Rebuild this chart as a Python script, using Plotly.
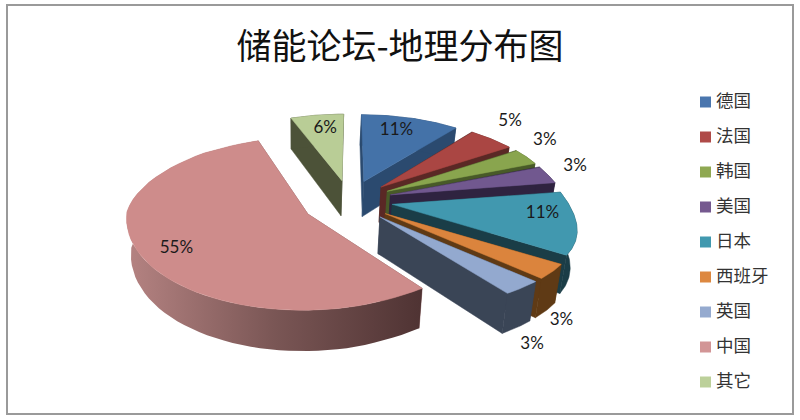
import numpy as np
import plotly.graph_objects as go

categories = ["德国", "法国", "韩国", "美国", "日本", "西班牙", "英国", "中国", "其它"]
shares = [11, 5, 3, 3, 11, 3, 3, 55, 6]
label_text = ["11%", "5%", "3%", "3%", "11%", "3%", "3%", "55%", "6%"]
title_text = "储能论坛-地理分布图"

top_colors = ["#4472A8", "#AA4643", "#89A54E", "#71588F", "#4198AF", "#DB843D", "#93A9CF", "#CE8C8B", "#B9CD96"]
wall_colors = ["#2B4A6F", "#5A2825", "#485A28", "#2F2340", "#1A3D47", "#5F3A15", "#3A4556", "#7A5050", "#4C5238"]
legend_colors = ["#4A76AE", "#AF4A48", "#8FA852", "#75598F", "#4199AF", "#DD8840", "#95AACF", "#D29596", "#BCD09A"]
explode = [0.24, 0.24, 0.24, 0.24, 0.24, 0.24, 0.24, 0.27, 0.24]
label_radius = [0.76, 1.32, 1.26, 1.21, 0.83, 1.345, 1.48, 0.80, 0.755]
label_turn = [-2, -4, -5.6, -1.8, -5.3, 19, 16.7, 9, 1.4]

# projection of the tilted pie onto pixel axes
CX, CY, SX, SY_NEAR, SY_FAR, P, DEPTH = 350, 200.5, 178, 96, 88, 0.21, 36


def project(X, Y):
    X, Y = np.asarray(X, float), np.asarray(Y, float)
    far = Y >= 0
    gain_far = np.where(X < 0,
                        (1 + 0.025 * np.maximum(0, 1 - Y / 0.5)) / (1 + P * Y * np.minimum(1, Y / 0.8)),
                        1 / (1 + P * Y))
    gain_near = np.where(X > 0, 1 - Y * (0.25 * X - 0.1), 1.025 + 0.06 * Y)
    gain = np.where(far, gain_far, gain_near)
    depth = np.where(far, SY_FAR * Y / (1 + P * Y), SY_NEAR * Y)
    sag = np.where(X > 0, 4.0, 7.6) * np.where(far, np.maximum(0, 1 - Y / 0.6), 1.0)
    return CX + SX * X * gain, CY - depth + sag * X * X


def drop(px, py, Y):
    return px + (300 - px) * 0.025, py + DEPTH * (1 - 0.12 * np.asarray(Y, float))


def wedge(tip, a0, a1):
    t = np.radians(np.linspace(a0, a1, 60))
    return tip[0] + np.sin(t), tip[1] + np.cos(t)


def band(X, Y):
    px, py = project(X, Y)
    bx, by = drop(px, py, Y)
    return np.r_[px, bx[::-1], px[0]], np.r_[py, by[::-1], py[0]]


fig = go.Figure()
edges = np.cumsum([0] + shares) * 3.6
mids = (edges[:-1] + edges[1:]) / 2
tips = [(e * np.sin(np.radians(m)), e * np.cos(np.radians(m))) for e, m in zip(explode, mids)]
order = [8, 0, 1, 2, 3, 4, 5, 6, 7]


def poly(x, y, color):
    fig.add_trace(go.Scatter(x=x, y=y, mode="lines", fill="toself", fillcolor=color,
                             line=dict(width=0.5, color=color), hoverinfo="skip", showlegend=False))


for i in order:
    tip = tips[i]
    for a in (edges[i], edges[i + 1]):
        r = np.radians(a)
        poly(*band(np.array([tip[0], tip[0] + np.sin(r)]), np.array([tip[1], tip[1] + np.cos(r)])), wall_colors[i])
    X, Y = wedge(tip, edges[i], edges[i + 1])
    bx, by = band(X, Y)
    if categories[i] == "中国":
        fig.add_trace(go.Scatter(
            x=bx, y=by, mode="lines", fill="toself", line=dict(width=0), hoverinfo="skip", showlegend=False,
            fillgradient=dict(type="horizontal", colorscale=[[0, "#B58382"], [0.5, "#7A5655"], [1, "#4F3333"]]),
        ))
    else:
        poly(bx, by, wall_colors[i])
    tx, ty = project(np.r_[tip[0], X, tip[0]], np.r_[tip[1], Y, tip[1]])
    poly(tx, ty, top_colors[i])

lab_x, lab_y = [], []
for i in range(len(shares)):
    t = np.radians(mids[i] + label_turn[i])
    px, py = project(tips[i][0] + label_radius[i] * np.sin(t), tips[i][1] + label_radius[i] * np.cos(t))
    lab_x.append(float(px))
    lab_y.append(float(py))
fig.add_trace(go.Scatter(x=lab_x, y=lab_y, mode="text", text=label_text, hoverinfo="skip", showlegend=False,
                         textfont=dict(family="Lato, Liberation Sans", size=17, color="#1a1a1a")))

# key at the right of the pie
key_y = [102 + 35 * k for k in range(len(categories))]
fig.add_trace(go.Scatter(x=[705.5] * len(categories), y=key_y, mode="markers", hoverinfo="skip", showlegend=False,
                         marker=dict(symbol="square", size=11, color=legend_colors, line=dict(width=0))))
fig.add_trace(go.Scatter(x=[716] * len(categories), y=[k + 1 for k in key_y], mode="text", text=categories,
                         textposition="middle right", hoverinfo="skip", showlegend=False,
                         textfont=dict(family="Noto Sans CJK SC", size=17.5, color="#333333")))

fig.update_layout(
    width=800, height=420, margin=dict(l=0, r=0, t=0, b=0),
    paper_bgcolor="white", plot_bgcolor="white", autosize=False, showlegend=False,
    xaxis=dict(range=[0, 800], visible=False, fixedrange=True),
    yaxis=dict(range=[420, 0], visible=False, fixedrange=True),
    title=dict(text=title_text, x=0.5, xanchor="center", xref="paper", y=0.888, yanchor="middle",
               font=dict(family="Noto Sans CJK SC", size=35, color="#111111")),
    shapes=[dict(type="rect", xref="x", yref="y", x0=7, y0=5, x1=793, y1=414,
                 line=dict(color="#9a9a9a", width=2), fillcolor="rgba(0,0,0,0)", layer="below")],
)
fig.write_html("out.html", post_script="document.body.style.margin='0';", config={"displayModeBar": False})
